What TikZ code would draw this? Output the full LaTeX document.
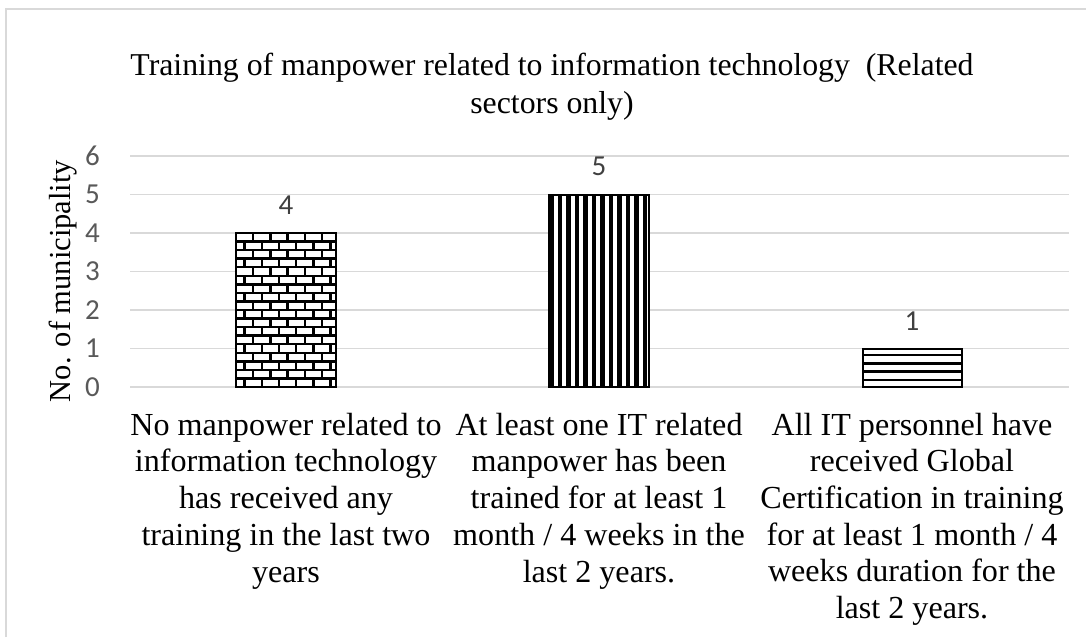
\documentclass[tikz,border=0pt]{standalone}
\usepackage{fontspec}
\setmainfont{Liberation Serif}
\newfontfamily\numfont{Carlito}
\definecolor{gridgray}{HTML}{D9D9D9}
\definecolor{ticktext}{HTML}{595959}
\definecolor{valtext}{HTML}{404040}

\begin{document}
\begin{tikzpicture}[x=1pt, y=-1pt,
    gridline/.style={gridgray, line width=1.5pt},
    ticklabel/.style={anchor=east, inner sep=0pt, text=ticktext, font=\numfont\fontsize{29}{29}\selectfont},
    vallabel/.style={inner sep=0pt, text=valtext, font=\numfont\fontsize{29}{29}\selectfont},
    catlabel/.style={inner sep=0pt, align=center, anchor=base, font=\fontsize{32.1}{36.7}\selectfont},
    barframe/.style={draw=black, line width=2pt},
    hatch/.style={line width=2.5pt}]
    \useasboundingbox (0,0) rectangle (1086,637);
    \draw[gridgray, line width=1.5pt] (6,637) -- (6,9) -- (1086,9);

    \node[inner sep=0pt, align=center, anchor=base, font=\fontsize{31.8}{38}\selectfont] (title) at (552,113)
      {Training of manpower related to information technology\ \ (Related\\sectors only)};
    \node[inner sep=0pt, rotate=90, font=\fontsize{30.5}{30.5}\selectfont] (ytitle) at (63,281) {No. of municipality};

    \foreach \v in {0,...,6} {
      \draw[gridline] (130,{387-38.5*\v}) -- (1069,{387-38.5*\v});
      \node[ticklabel] (tick\v) at (100,{387-38.5*\v}) {\v};
    }

    % bricks
    \begin{scope}
      \clip (236,233) rectangle (336,387);
      \fill[white] (236,233) rectangle (336,387);
      \foreach \r in {0,...,17} {
        \draw[hatch] (236,{233+8.556*\r}) -- (336,{233+8.556*\r});
        \pgfmathsetmacro\off{mod(\r,2)*8.6}
        \foreach \c in {-1,...,6}
          \draw[hatch] ({236+\off+17.2*\c},{233+8.556*\r}) -- ++(0,8.556);
      }
    \end{scope}
    \draw[barframe] (236,233) rectangle (336,387);

    % vertical stripes
    \begin{scope}
      \clip (549,195) rectangle (649,387);
      \fill[white] (549,195) rectangle (649,387);
      \foreach \c in {0,...,11}
        \fill ({549+8.5*\c},195) rectangle ++(4.6,192);
    \end{scope}
    \draw[barframe] (549,195) rectangle (649,387);

    % horizontal lines
    \begin{scope}
      \clip (863,349) rectangle (962,387);
      \fill[white] (863,349) rectangle (962,387);
      \foreach \r in {0,...,3}
        \draw[hatch] (863,{355+8.33*\r}) -- (962,{355+8.33*\r});
    \end{scope}
    \draw[barframe] (863,349) rectangle (962,387);

    \node[vallabel] (val1) at (286,205) {4};
    \node[vallabel] (val2) at (599,166) {5};
    \node[vallabel] (val3) at (912,321) {1};

    \node[catlabel] (cat1) at (286,582) {No manpower related to\\information technology\\has received any\\training in the last two\\years};
    \node[catlabel] (cat2) at (599,582) {At least one IT related\\manpower has been\\trained for at least 1\\month / 4 weeks in the\\last 2 years.};
    \node[catlabel] (cat3) at (912,618.5) {All IT personnel have\\received Global\\Certification in training\\for at least 1 month / 4\\weeks duration for the\\last 2 years.};
\end{tikzpicture}
\end{document}
